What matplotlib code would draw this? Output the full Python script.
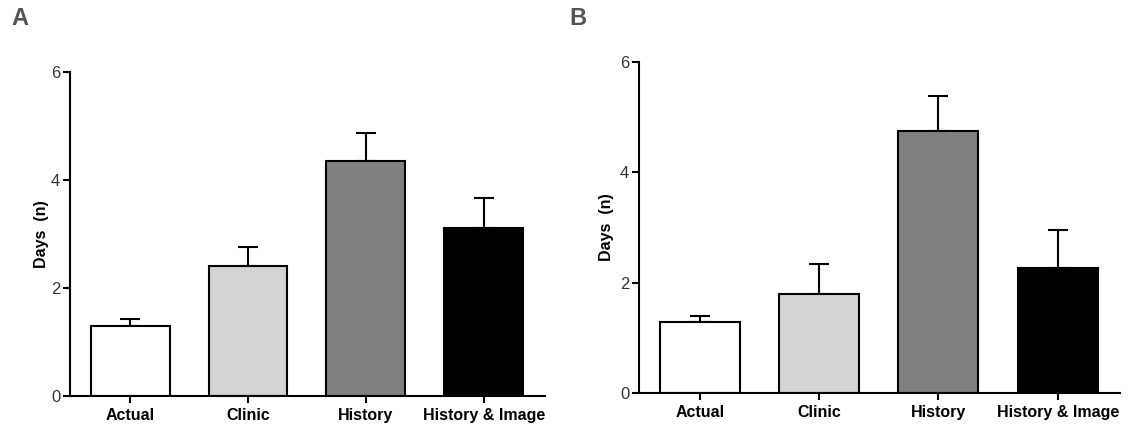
import matplotlib.pyplot as plt

plt.rcParams['font.family'] = ['Liberation Sans', 'DejaVu Sans']

categories = ['Actual', 'Clinic', 'History', 'History & Image']
colors = ['white', '#d3d3d3', '#808080', 'black']

days_a = [1.30, 2.41, 4.35, 3.11]
err_a = [0.13, 0.35, 0.52, 0.56]

days_b = [1.28, 1.80, 4.75, 2.27]
err_b = [0.12, 0.53, 0.63, 0.69]

fig = plt.figure(figsize=(11.31, 4.25), dpi=100)
ax_a = fig.add_axes([0.0619, 0.068, 0.420, 0.7626])
ax_b = fig.add_axes([0.565, 0.0753, 0.425, 0.7788])


def draw_panel(ax, values, errors, pad):
    x = range(len(categories))
    ax.bar(x, values, width=0.67, color=colors, edgecolor='black', linewidth=1.5, zorder=2)
    ax.errorbar(x, values, yerr=[[0] * len(values), errors], fmt='none',
                ecolor='black', elinewidth=1.5, capsize=7, capthick=1.5, zorder=1)
    ax.set_xlim(-0.51, 3.52)
    ax.set_ylim(0, 6)
    ax.set_yticks([0, 2, 4, 6])
    ax.set_xticks(list(x))
    ax.set_xticklabels(categories, fontsize=11.5, fontweight='bold')
    ax.tick_params(axis='y', labelsize=12, labelcolor='#333333', width=1.5, length=5,
                   direction='out', pad=2)
    ax.tick_params(axis='x', width=1.5, length=5, direction='out')
    for side in ['top', 'right']:
        ax.spines[side].set_visible(False)
    for side in ['left', 'bottom']:
        ax.spines[side].set_linewidth(1.5)
    ax.set_ylabel('Days  (n)', fontsize=11.5, fontweight='bold', labelpad=pad)


draw_panel(ax_a, days_a, err_a, 1.5)
draw_panel(ax_b, days_b, err_b, 4.5)

fig.text(0.010, 0.956, 'A', fontsize=17, fontweight='heavy', color='#555555', va='center')
fig.text(0.503, 0.956, 'B', fontsize=17, fontweight='heavy', color='#555555', va='center')

fig.savefig('out.png', dpi=100)
